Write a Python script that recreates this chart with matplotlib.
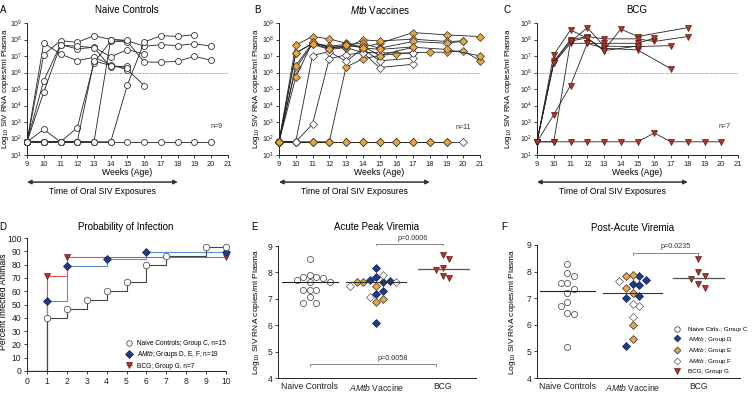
import numpy as np
import matplotlib
matplotlib.use('Agg')
import matplotlib.pyplot as plt
from matplotlib.lines import Line2D
from matplotlib.ticker import FixedLocator, FuncFormatter, NullLocator
from matplotlib.transforms import blended_transform_factory

plt.rcParams['font.family'] = ['Liberation Sans', 'DejaVu Sans']
plt.rcParams['mathtext.fontset'] = 'custom'
plt.rcParams['mathtext.rm'] = 'Liberation Sans'
plt.rcParams['mathtext.it'] = 'Liberation Sans:italic'
plt.rcParams['mathtext.bf'] = 'Liberation Sans:bold'

# ---------------- data ----------------
# Panels A-C: log10 SIV RNA copies/ml plasma per animal, by week of age
naive_animals = [
    ([9, 10, 11, 12, 13, 14, 15, 16, 17, 18, 19, 20], [1.8, 1.8, 1.8, 1.8, 1.8, 1.8, 1.8, 1.8, 1.8, 1.8, 1.8, 1.8]),
    ([9, 10, 11, 12, 13, 14, 15, 16], [1.8, 7.79, 7.12, 6.72, 6.92, 6.48, 6.16, 5.21]),
    ([9, 10, 11, 12, 13, 14, 15, 16, 17, 18, 19, 20], [1.8, 7.08, 7.93, 7.83, 8.23, 8.0, 7.93, 7.59, 7.69, 7.63, 7.75, 7.59]),
    ([9, 10, 11, 12, 13, 14, 15, 16], [1.8, 5.51, 7.69, 7.43, 7.53, 6.95, 7.39, 7.12]),
    ([9, 10, 11, 12, 13, 14, 15], [1.8, 4.81, 7.65, 7.60, 7.50, 6.32, 6.40]),
    ([9, 10, 11, 12, 13, 14, 15, 16, 17, 18, 19, 20], [1.8, 2.55, 1.8, 2.65, 6.60, 7.90, 7.85, 6.64, 6.62, 6.68, 6.98, 6.74]),
    ([9, 10, 11, 12, 13, 14, 15], [1.8, 1.8, 1.8, 1.8, 6.71, 6.42, 6.28]),
    ([9, 10, 11, 12, 13, 14, 15], [1.8, 1.8, 1.8, 1.8, 1.8, 8.0, 7.94]),
    ([9, 10, 11, 12, 13, 14, 15, 16, 17, 18, 19], [1.8, 1.8, 1.8, 1.8, 1.8, 1.8, 5.27, 7.85, 8.23, 8.19, 8.29]),
]

mtb_animals = [
    ('F', [9, 10, 11, 12, 13, 14, 15, 16, 17, 18, 19, 20], [1.8, 1.8, 1.8, 1.8, 1.8, 1.8, 1.8, 1.8, 1.8, 1.8, 1.8, 1.8]),
    ('E', [9, 10, 11, 12, 13, 14, 15, 16, 17, 18, 19], [1.8, 1.8, 1.8, 1.8, 1.8, 1.8, 1.8, 1.8, 1.8, 1.8, 1.8]),
    ('E', [9, 10, 11, 12, 13, 14, 15, 16, 17, 18, 19, 20, 21], [1.8, 1.8, 1.8, 1.8, 6.32, 6.83, 7.03, 7.13, 7.20, 7.23, 7.23, 7.33, 6.71]),
    ('F', [9, 10, 11, 12, 13, 14, 15, 17], [1.8, 1.8, 2.87, 6.83, 7.07, 7.21, 6.30, 6.50]),
    ('F', [9, 10, 11, 12, 13, 14, 15, 17], [1.8, 1.8, 7.03, 7.27, 6.67, 7.45, 6.71, 6.87]),
    ('F', [9, 10, 11, 12, 13, 14, 15, 17], [1.8, 6.26, 7.71, 7.40, 7.51, 7.21, 7.20, 7.17]),
    ('E', [9, 10, 11, 12, 13, 14, 15, 17, 19, 21], [1.8, 7.67, 8.18, 8.04, 7.77, 7.53, 7.77, 8.42, 8.28, 8.18]),
    ('E', [9, 10, 11, 12, 13, 14, 15, 17, 19, 20], [1.8, 7.17, 7.77, 7.57, 7.51, 7.98, 7.91, 8.02, 7.88, 7.91]),
    ('E', [9, 10, 11, 12, 13, 14, 15, 17, 19, 20], [1.8, 6.42, 7.80, 7.60, 7.70, 7.77, 7.47, 7.88, 7.77, 7.90]),
    ('E', [9, 10, 11, 12, 13, 14, 15, 17, 19, 21], [1.8, 5.70, 7.85, 7.50, 7.60, 7.60, 7.03, 7.53, 7.40, 7.01]),
    ('E', [9, 10, 11, 12, 13, 14, 15, 17], [1.8, 7.20, 7.75, 7.45, 7.65, 7.50, 7.40, 7.55]),
]

bcg_animals = [
    ([9, 10, 11, 12, 13, 14, 15, 16, 17, 18, 19, 20], [1.8, 1.8, 1.8, 1.8, 1.8, 1.8, 1.8, 2.33, 1.8, 1.8, 1.8, 1.8]),
    ([9, 10, 11, 12, 13, 14, 15, 18], [1.8, 7.07, 8.58, 8.08, 7.33, 8.64, 8.18, 8.72]),
    ([9, 10, 11, 12, 13, 15, 16, 18], [1.8, 6.67, 7.98, 8.18, 8.04, 8.04, 7.88, 8.18]),
    ([9, 10, 11, 12, 13, 15, 16], [1.8, 6.56, 7.77, 7.77, 7.77, 7.77, 8.08]),
    ([9, 10, 11, 12, 13, 15, 17], [1.8, 3.44, 5.21, 7.77, 7.47, 7.37, 6.22]),
    ([9, 10, 11, 12, 13, 15, 17], [1.8, 1.8, 7.85, 8.72, 7.60, 7.57, 7.63]),
    ([9, 10, 11, 12, 13, 15], [1.8, 6.60, 7.90, 8.10, 7.33, 7.60]),
]

# Panel D: cumulative percent infected by number of exposures
km_naive_x = [0, 1, 2, 3, 4, 5, 6, 7, 9, 10]
km_naive_y = [0, 40, 46.7, 53.3, 60, 66.7, 80, 86.7, 93.3, 93.3]
km_mtb_x = [0, 1, 2, 4, 6, 10]
km_mtb_y = [0, 52.6, 78.9, 84.2, 89.5, 89.5]
km_bcg_x = [0, 1, 2, 10]
km_bcg_y = [0, 71.4, 85.7, 85.7]

# Panel E: acute peak viremia (log10)
peak_naive = [8.50, 7.89, 7.81, 7.71, 7.77, 7.81, 7.64, 7.62, 7.35, 7.33, 7.35, 7.08, 6.85, 6.85]
peak_D = [8.15, 7.62, 7.71, 7.68, 7.81, 7.20, 7.29, 6.07]
peak_E = [7.62, 7.48, 7.62, 6.98, 6.89]
peak_F = [7.89, 7.48, 7.62, 7.08]
peak_bcg = [8.52, 8.65, 8.17, 8.08, 7.77, 7.86]

# Panel F: post-acute viremia (log10)
post_naive = [8.28, 7.83, 7.93, 7.59, 7.59, 7.34, 7.18, 6.86, 6.70, 6.46, 6.42, 5.17]
post_D = [7.84, 7.49, 7.52, 7.68, 7.02, 7.08, 5.21]
post_E = [7.84, 7.87, 7.39, 7.20, 6.01, 5.46]
post_F = [7.64, 6.71, 6.80, 6.30]
post_bcg = [8.46, 7.97, 7.84, 7.71, 7.53, 7.37]

categories = ['Naive Controls', r'$\mathit{AMtb}$ Vaccine', 'BCG']

# ---------------- style ----------------
ORANGE = '#EBA53C'
BLUE = '#1F3C88'
RED = '#B3322B'
REDEDGE = '#5E1A14'
EDGE = '#333333'

W, H = 754, 393
fig = plt.figure(figsize=(W / 100, H / 100), dpi=100)


def add_ax(l, r, t, b):
    return fig.add_axes([l / W, 1 - b / H, (r - l) / W, (b - t) / H])


def ftext(x, y, s, **kw):
    fig.text(x / W, 1 - y / H, s, **kw)


def style_ax(ax, labelsize=5.6):
    for s in ['top', 'right']:
        ax.spines[s].set_visible(False)
    for s in ['left', 'bottom']:
        ax.spines[s].set_linewidth(0.7)
        ax.spines[s].set_color('#222222')
    ax.tick_params(direction='out', length=2.5, width=0.6, labelsize=labelsize, pad=1.5, colors='#222222')


def viral_panel(ax):
    ax.set_yscale('log')
    ax.set_ylim(10 ** 1, 10 ** 9)
    ax.set_xlim(9, 21)
    ax.yaxis.set_major_locator(FixedLocator([10.0 ** k for k in range(1, 10)]))
    ax.yaxis.set_minor_locator(NullLocator())
    ax.yaxis.set_major_formatter(FuncFormatter(lambda v, p: r'$10^{%d}$' % round(np.log10(v))))
    ax.set_xticks(range(9, 22))
    style_ax(ax, 5.4)
    ax.tick_params(axis='y', labelsize=5.0, pad=1.0)
    ax.axhline(10 ** 6, color='#999999', lw=0.6, ls=(0, (2, 1)), zorder=1)
    ax.text(0.5, -0.135, 'Weeks (Age)', transform=ax.transAxes, ha='center', va='center', fontsize=6.2)
    tr = blended_transform_factory(ax.transData, ax.transAxes)
    ax.annotate('', xy=(18, -0.205), xytext=(9, -0.205), xycoords=tr, textcoords=tr,
                arrowprops=dict(arrowstyle='<|-|>', color='#333333', lw=1.1, mutation_scale=6,
                                shrinkA=0, shrinkB=0), annotation_clip=False)
    ax.text(13.5, -0.28, 'Time of Oral SIV Exposures', transform=tr, ha='center', va='center', fontsize=6.2)


# ---------------- Panel A ----------------
axA = add_ax(27, 228, 23, 155)
viral_panel(axA)
for wk, v in naive_animals:
    axA.plot(wk, 10.0 ** np.array(v), color='#222222', lw=0.6, marker='o', ms=4.3,
             mfc='white', mec=EDGE, mew=0.6, clip_on=False, zorder=3)
axA.text(20.3, 10 ** 2.7, 'n=9', fontsize=5, ha='center', va='center', color='#333333')

# ---------------- Panel B ----------------
axB = add_ax(279, 480, 23, 155)
viral_panel(axB)
for grp, wk, v in mtb_animals:
    axB.plot(wk, 10.0 ** np.array(v), color='#222222', lw=0.6, marker='D', ms=3.6,
             mfc=ORANGE if grp == 'E' else 'white', mec=EDGE, mew=0.5, clip_on=False, zorder=3)
axB.text(20.0, 10 ** 2.65, 'n=11', fontsize=5, ha='center', va='center', color='#333333')

# ---------------- Panel C ----------------
axC = add_ax(537, 738, 23, 155)
viral_panel(axC)
for wk, v in bcg_animals:
    axC.plot(wk, 10.0 ** np.array(v), color='#222222', lw=0.6, marker='v', ms=4.6,
             mfc=RED, mec=REDEDGE, mew=0.5, clip_on=False, zorder=3)
axC.text(20.2, 10 ** 2.7, 'n=7', fontsize=5, ha='center', va='center', color='#333333')

ylab = r'Log$_{10}$ SIV RNA copies/ml Plasma'
ftext(5.5, 88, ylab, rotation=90, ha='center', va='center', fontsize=5.8)
ftext(256, 88, ylab, rotation=90, ha='center', va='center', fontsize=5.8)
ftext(508, 88, ylab, rotation=90, ha='center', va='center', fontsize=5.8)

ftext(127, 10, 'Naive Controls', ha='center', va='center', fontsize=7)
ftext(380, 10, r'$\mathit{Mtb}$ Vaccines', ha='center', va='center', fontsize=7)
ftext(637, 10, 'BCG', ha='center', va='center', fontsize=7)
ftext(3, 10, 'A', ha='center', va='center', fontsize=7)
ftext(257, 10, 'B', ha='center', va='center', fontsize=7)
ftext(507, 10, 'C', ha='center', va='center', fontsize=7)

# ---------------- Panel D ----------------
axD = add_ax(27, 226, 238, 371)
style_ax(axD, 6.2)
axD.set_xlim(0, 10)
axD.set_ylim(0, 100)
axD.set_xticks(range(0, 11))
axD.set_yticks(range(0, 101, 10))
axD.step(km_bcg_x, km_bcg_y, where='post', color='#D9534F', lw=0.8, zorder=2)
axD.plot(km_bcg_x[1:], km_bcg_y[1:], ls='none', marker='v', ms=5, mfc=RED, mec=REDEDGE, mew=0.5, zorder=4, clip_on=False)
axD.step(km_mtb_x, km_mtb_y, where='post', color='#5B8ED8', lw=0.8, zorder=2)
axD.plot(km_mtb_x[1:], km_mtb_y[1:], ls='none', marker='D', ms=4, mfc=BLUE, mec='#10224f', mew=0.5, zorder=4, clip_on=False)
axD.step(km_naive_x, km_naive_y, where='post', color='#444444', lw=0.8, zorder=3)
axD.plot(km_naive_x[1:], km_naive_y[1:], ls='none', marker='o', ms=4.6, mfc='white', mec='#555555', mew=0.6, zorder=4, clip_on=False)
hD = [Line2D([], [], color='#444444', lw=0.8, marker='o', ms=4, mfc='white', mec='#555555', mew=0.6),
      Line2D([], [], color='#5B8ED8', lw=0.8, marker='D', ms=3.6, mfc=BLUE, mec='#10224f', mew=0.5),
      Line2D([], [], color='#D9534F', lw=0.8, marker='v', ms=4.6, mfc=RED, mec=REDEDGE, mew=0.5)]
axD.legend(hD, ['Naive Controls; Group C, n=15', r'A$\mathit{Mtb}$; Groups D, E, F, n=19', 'BCG; Group G, n=7'],
           loc='upper left', bbox_to_anchor=(0.50, 0.232), frameon=False, fontsize=4.7,
           handlelength=0.9, handletextpad=0.75, labelspacing=0.35, borderaxespad=0, borderpad=0)
ftext(126, 227, 'Probability of Infection', ha='center', va='center', fontsize=7)
ftext(4, 302, 'Percent Infected Animals', rotation=90, ha='center', va='center', fontsize=6.2)
ftext(127, 397, 'No. of SIV Exposures', ha='center', va='center', fontsize=6.2)
ftext(3, 227, 'D', ha='center', va='center', fontsize=7)


# ---------------- Panels E and F ----------------
def swarm_offsets(vals, xppu, yppu, diam, rowh):
    """GraphPad-like scatter: points closer than rowh vertically are spread sideways."""
    vals = np.asarray(vals, float)
    order = np.argsort(-vals, kind='stable')
    placed = []
    offs = np.zeros(len(vals))
    step = diam * 0.5
    flip = 1
    for i in order:
        y = vals[i] * yppu
        k = 0
        found = None
        while found is None:
            cands = [0.0] if k == 0 else [flip * k * step, -flip * k * step]
            for x in cands:
                if all(not (abs(x - px) < diam - 1e-9 and abs(y - py) < rowh) for px, py in placed):
                    found = x
                    break
            k += 1
        if found != 0:
            flip = -flip
        placed.append((found, y))
        offs[i] = found / xppu
    return offs


def scatter_panel(ax, l, r, t, b, xlim, naive, d, e, f, bcg):
    style_ax(ax, 6.2)
    ax.set_xlim(*xlim)
    ax.set_ylim(4, 9)
    ax.set_yticks(range(4, 10))
    ax.set_xticks([0, 1, 2])
    ax.set_xticklabels(categories, fontsize=6.2)
    ax.tick_params(axis='x', length=0, pad=3)
    xppu = (r - l) / (xlim[1] - xlim[0])
    yppu = (b - t) / 5.0
    diam, rowh = 6.6, 7.0
    off = swarm_offsets(naive, xppu, yppu, diam, rowh)
    ax.plot(0 + off, naive, ls='none', marker='o', ms=4.4, mfc='white', mec='#555555', mew=0.6, zorder=3, clip_on=False)
    allv = list(d) + list(e) + list(f)
    grp = ['D'] * len(d) + ['E'] * len(e) + ['F'] * len(f)
    off = swarm_offsets(allv, xppu, yppu, diam, rowh)
    sty = {'D': dict(mfc=BLUE, mec='#10224f'), 'E': dict(mfc=ORANGE, mec=EDGE), 'F': dict(mfc='white', mec='#555555')}
    for g in ['D', 'E', 'F']:
        idx = [i for i, gg in enumerate(grp) if gg == g]
        ax.plot(1 + off[idx], np.array(allv)[idx], ls='none', marker='D', ms=3.8, mew=0.5, zorder=3, clip_on=False, **sty[g])
    off = swarm_offsets(bcg, xppu, yppu, diam, rowh)
    ax.plot(2 + off, bcg, ls='none', marker='v', ms=4.8, mfc=RED, mec=REDEDGE, mew=0.5, zorder=3, clip_on=False)
    ax.plot([-0.42, 0.42], [np.median(naive)] * 2, color='#222222', lw=0.8, zorder=4)
    ax.plot([0.55, 1.45], [np.median(allv)] * 2, color='#333333', lw=0.8, zorder=4)
    ax.plot([1.62, 2.4], [np.median(bcg)] * 2, color='#555555', lw=0.9, zorder=4)


def bracket(ax, x1, x2, y, label, tx, ty):
    ax.plot([x1, x1, x2, x2], [y - 0.06, y, y, y - 0.06], color='#888888', lw=0.7, clip_on=False)
    ax.text(tx, ty, label, ha='center', va='center', fontsize=5.2, color='#333333', clip_on=False)


axE = add_ax(278, 476, 246, 378)
scatter_panel(axE, 278, 476, 246, 378, (-0.48, 2.5), peak_naive, peak_D, peak_E, peak_F, peak_bcg)
bracket(axE, 1.0, 2.0, 9.09, 'p=0.0006', 1.55, 9.29)
bracket(axE, 0.0, 1.9, 4.53, 'p=0.0058', 1.25, 4.73)
ftext(377, 227, 'Acute Peak Viremia', ha='center', va='center', fontsize=7)
ftext(257, 312, ylab, rotation=90, ha='center', va='center', fontsize=6.0)
ftext(255, 227, 'E', ha='center', va='center', fontsize=7)

axF = add_ax(537, 740, 245, 378)
scatter_panel(axF, 537, 740, 245, 378, (-0.46, 2.64), post_naive, post_D, post_E, post_F, post_bcg)
bracket(axF, 1.0, 2.0, 8.69, 'p=0.0235', 1.66, 8.96)
ftext(633, 228, 'Post-Acute Viremia', ha='center', va='center', fontsize=7)
ftext(512, 312, ylab, rotation=90, ha='center', va='center', fontsize=6.0)
ftext(504, 227, 'F', ha='center', va='center', fontsize=7)
hF = [Line2D([], [], ls='none', marker='o', ms=4, mfc='white', mec='#555555', mew=0.6),
      Line2D([], [], ls='none', marker='D', ms=3.5, mfc=BLUE, mec='#10224f', mew=0.5),
      Line2D([], [], ls='none', marker='D', ms=3.5, mfc=ORANGE, mec=EDGE, mew=0.5),
      Line2D([], [], ls='none', marker='D', ms=3.5, mfc='white', mec='#555555', mew=0.5),
      Line2D([], [], ls='none', marker='v', ms=4.6, mfc=RED, mec=REDEDGE, mew=0.5)]
axF.legend(hF, ['Naive Ctrls.; Group C', r'A$\mathit{Mtb}$ ; Group D', r'A$\mathit{Mtb}$ ; Group E',
                r'A$\mathit{Mtb}$ ; Group F', 'BCG; Group G'],
           loc='upper left', bbox_to_anchor=(0.675, 0.385), frameon=False, fontsize=4.5,
           handlelength=1.0, handletextpad=1.3, labelspacing=0.38, borderaxespad=0, borderpad=0)

fig.savefig('out.png', dpi=100)
